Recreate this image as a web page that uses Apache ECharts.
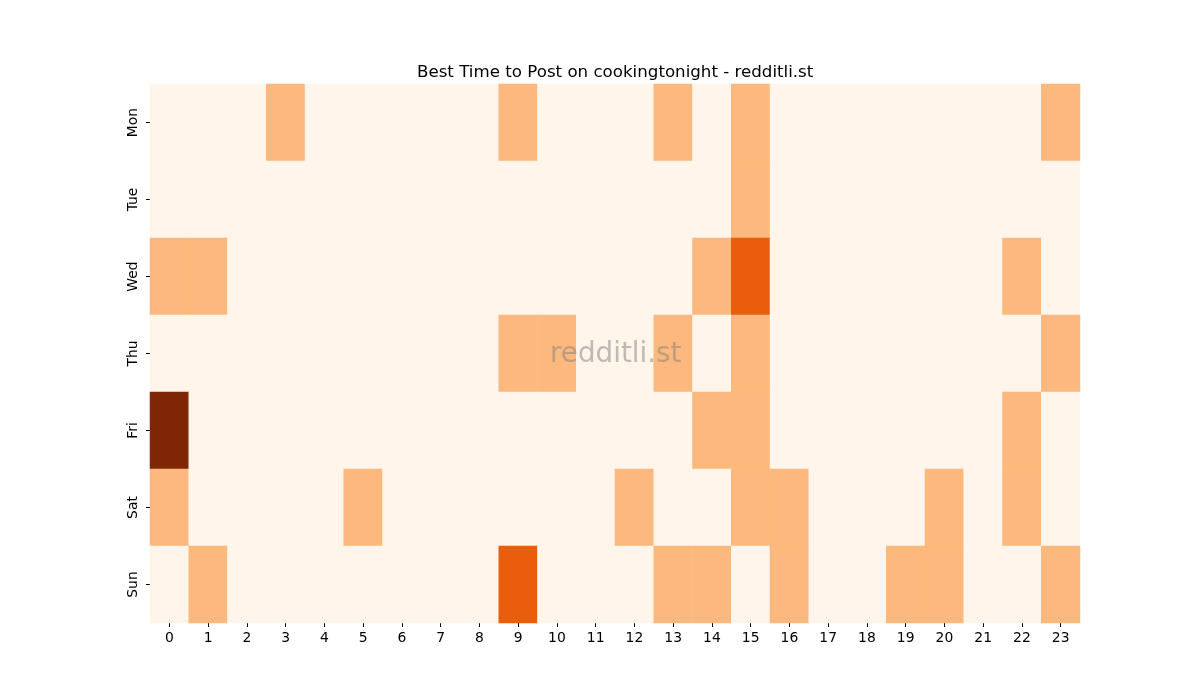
<!DOCTYPE html>
<html lang="en">
<head>
    <meta charset="UTF-8">
    <title>Best Time to Post</title>
    <script src="https://cdn.jsdelivr.net/npm/echarts@6/dist/echarts.min.js"></script>
    <style>body { margin: 0; background: #fff; }</style>
</head>
<body>
    <div id="main" style="width: 1200px;height:700px;"></div>
    <script type="text/javascript">
        const hours = ['0','1','2','3','4','5','6','7','8','9','10','11','12','13','14','15','16','17','18','19','20','21','22','23'];
        const days = ['Mon', 'Tue', 'Wed', 'Thu', 'Fri', 'Sat', 'Sun'];
        // posts per hour, one row per day
        const mon = [0,0,0,1,0,0,0,0,0,1,0,0,0,1,0,1,0,0,0,0,0,0,0,1];
        const tue = [0,0,0,0,0,0,0,0,0,0,0,0,0,0,0,1,0,0,0,0,0,0,0,0];
        const wed = [1,1,0,0,0,0,0,0,0,0,0,0,0,0,1,2,0,0,0,0,0,0,1,0];
        const thu = [0,0,0,0,0,0,0,0,0,1,1,0,0,1,0,1,0,0,0,0,0,0,0,1];
        const fri = [3,0,0,0,0,0,0,0,0,0,0,0,0,0,1,1,0,0,0,0,0,0,1,0];
        const sat = [1,0,0,0,0,1,0,0,0,0,0,0,1,0,0,1,1,0,0,0,1,0,1,0];
        const sun = [0,1,0,0,0,0,0,0,0,2,0,0,0,1,1,0,1,0,0,1,1,0,0,1];
        const rows = [mon, tue, wed, thu, fri, sat, sun];

        const data = [];
        rows.forEach((row, d) => row.forEach((v, h) => data.push([h, d, v])));

        let myChart = echarts.init(document.getElementById('main'));
        let options = {
            backgroundColor: '#fff',
            textStyle: { fontFamily: 'DejaVu Sans' },
            title: {
                text: 'Best Time to Post on cookingtonight - redditli.st',
                left: 412, top: 59,
                textStyle: { fontFamily: 'DejaVu Sans', fontSize: 16.67, fontWeight: 'normal', color: '#000' }
            },
            grid: { left: 150, right: 120, top: 84, bottom: 77 },
            xAxis: {
                type: 'category', data: hours,
                axisLine: { show: false },
                axisTick: { show: true, alignWithLabel: true, length: 4, lineStyle: { color: '#000' } },
                axisLabel: { color: '#000', fontSize: 13.9, margin: 8 },
                splitLine: { show: false }
            },
            yAxis: {
                type: 'category', data: days, inverse: true,
                axisLine: { show: false },
                axisTick: { show: true, alignWithLabel: true, length: 4, lineStyle: { color: '#000' } },
                axisLabel: { color: '#000', fontSize: 13.9, rotate: 90, margin: 10 },
                splitLine: { show: false }
            },
            visualMap: {
                show: false, min: 0, max: 3, calculable: false,
                inRange: { color: ['#fff5eb', '#fdb97d', '#e95e0d', '#7f2704'] }
            },
            graphic: [{
                type: 'text', left: 550, top: 341, z: 100,
                style: { text: 'redditli.st', fontFamily: 'DejaVu Sans', fontSize: 27.8, fill: 'rgba(128,128,128,0.5)' }
            }],
            series: [{
                type: 'heatmap', data: data,
                itemStyle: { borderWidth: 0 },
                emphasis: { disabled: true }
            }]
        };
        myChart.setOption(options);
    </script>
</body>
</html>
